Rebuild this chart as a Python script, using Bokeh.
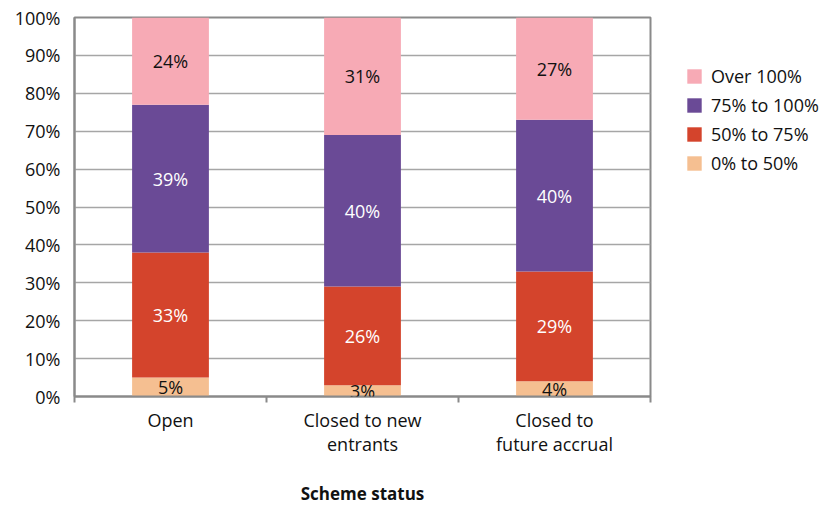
from bokeh.plotting import figure
from bokeh.models import (ColumnDataSource, FixedTicker, Legend, LegendItem,
                          LabelSet, Range1d)
from bokeh.core.properties import value
from bokeh.embed import file_html
from bokeh.resources import INLINE

# Funding level distribution by scheme status (percent of schemes)
categories = ["Open", "Closed to new\nentrants", "Closed to\nfuture accrual"]
band_0_50 = [5, 3, 4]
band_50_75 = [33, 26, 29]
band_75_100 = [39, 40, 40]
band_over_100 = [24, 31, 27]

bands = ["0% to 50%", "50% to 75%", "75% to 100%", "Over 100%"]
band_values = [band_0_50, band_50_75, band_75_100, band_over_100]
band_colors = ["#F5BF91", "#D4442C", "#6A4A96", "#F7AAB5"]
label_colors = ["#111111", "#ffffff", "#ffffff", "#111111"]

FONT = "Open Sans"
FS = "18px"
x = [i + 0.5 for i in range(len(categories))]

p = figure(frame_width=576, frame_height=379, output_backend="svg",
           toolbar_location=None,
           x_range=Range1d(0, len(categories)), y_range=Range1d(0, 100),
           min_border_left=74, min_border_right=175, min_border_top=17,
           min_border_bottom=100)

renderers = []
bottom = [0.0] * len(categories)
for name, vals, col, lcol in zip(bands, band_values, band_colors, label_colors):
    top = [b + v for b, v in zip(bottom, vals)]
    src = ColumnDataSource(dict(
        x=x, bottom=bottom, top=top,
        mid=[(b + min(t, 100)) / 2 for b, t in zip(bottom, top)],
        text=[f"{v}%" for v in vals]))
    r = p.vbar(x="x", bottom="bottom", top="top", width=0.4, source=src,
               fill_color=col, line_color=None)
    renderers.append((name, r))
    p.add_layout(LabelSet(x="x", y="mid", text="text", source=src,
                          text_align="center", text_baseline="middle",
                          text_font=value(FONT), text_font_size=value(FS),
                          text_color=lcol))
    bottom = top

# Frame, grid and axes
p.outline_line_color = "#8a8a8a"
p.outline_line_width = 2
p.xgrid.visible = False
p.ygrid.ticker = FixedTicker(ticks=list(range(0, 101, 10)))
p.ygrid.grid_line_color = "#a6a6a6"
p.ygrid.grid_line_width = 1.5
p.background_fill_color = "white"
p.border_fill_color = "white"

ya = p.yaxis[0]
ya.ticker = FixedTicker(ticks=list(range(0, 101, 10)))
ya.major_label_overrides = {t: f"{t}%" for t in range(0, 101, 10)}
ya.axis_line_color = "#8a8a8a"
ya.axis_line_width = 2
ya.major_tick_out = 0
ya.major_tick_in = 0
ya.minor_tick_line_color = None
ya.major_label_standoff = 14
ya.major_label_text_font = FONT
ya.major_label_text_font_size = FS
ya.major_label_text_color = "#111111"

xa = p.xaxis[0]
xa.ticker = FixedTicker(ticks=x, minor_ticks=list(range(len(categories) + 1)))
xa.major_label_overrides = {xi: c for xi, c in zip(x, categories)}
xa.axis_line_color = "#8a8a8a"
xa.axis_line_width = 2
xa.major_tick_out = 0
xa.major_tick_in = 0
xa.minor_tick_out = 6
xa.minor_tick_in = 0
xa.minor_tick_line_color = "#8a8a8a"
xa.minor_tick_line_width = 2
xa.major_label_standoff = 5
xa.major_label_text_font = FONT
xa.major_label_text_font_size = FS
xa.major_label_text_color = "#111111"
xa.major_label_text_line_height = 1.0
xa.axis_label = "Scheme status"
xa.axis_label_text_font = FONT
xa.axis_label_text_font_size = "17px"
xa.axis_label_text_font_style = "bold"
xa.axis_label_text_color = "#111111"
xa.axis_label_standoff = 23

legend = Legend(items=[LegendItem(label=n, renderers=[r]) for n, r in reversed(renderers)],
                location=(35, 221), border_line_color=None,
                background_fill_alpha=0, label_text_font=FONT,
                label_text_font_size=FS, label_text_color="#111111",
                glyph_width=18, glyph_height=18, label_standoff=8,
                spacing=5, padding=0, margin=0)
p.add_layout(legend, "right")

open("out.html", "w").write(file_html(p, INLINE))
